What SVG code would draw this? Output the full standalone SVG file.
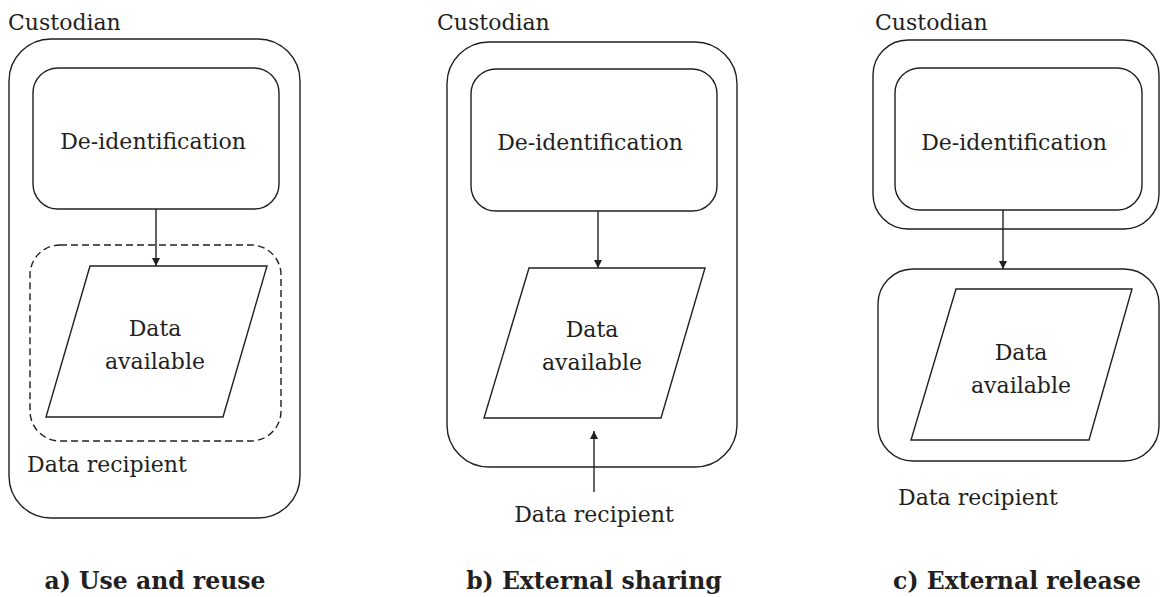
<svg xmlns="http://www.w3.org/2000/svg" width="1160" height="597" viewBox="0 0 1160 597">
<defs>
<marker id="ah" viewBox="0 0 10 10" refX="10" refY="5" markerWidth="10" markerHeight="8" markerUnits="userSpaceOnUse" orient="auto">
<path d="M0,0 L10,5 L0,10 Z" fill="#231f20"/>
</marker>
<style>
.box{fill:none;stroke:#231f20;stroke-width:1.4}
.dash{fill:none;stroke:#231f20;stroke-width:1.4;stroke-dasharray:7 4}
.t{font-family:"DejaVu Serif","Liberation Serif",serif;font-size:22px;fill:#231f20}
.c{text-anchor:middle}
.h{font-family:"DejaVu Serif","Liberation Serif",serif;font-size:23.5px;font-weight:bold;fill:#231f20;text-anchor:middle}
.con{fill:none;stroke:#231f20;stroke-width:1.4;marker-end:url(#ah)}
</style>
</defs>
<rect width="1160" height="597" fill="#ffffff"/>

<!-- Panel a -->
<g id="a-custodian">
<text class="t" x="8" y="30">Custodian</text>
<rect class="box" x="9" y="39" width="291" height="479" rx="42"/>
</g>
<g id="a-deid">
<rect class="box" x="33" y="68" width="246" height="141" rx="25"/>
<text class="t c" x="153" y="149">De-identification</text>
</g>
<g id="a-recipient">
<rect class="dash" x="30" y="245" width="251" height="196" rx="30"/>
<text class="t" x="27" y="472">Data recipient</text>
</g>
<g id="a-data">
<polygon class="box" points="90,266 267,266 223,417 46,417"/>
<text class="t c" x="155" y="336">Data</text>
<text class="t c" x="155" y="369">available</text>
</g>
<text class="h" x="155" y="589">a) Use and reuse</text>

<!-- Panel b -->
<g id="b-custodian">
<text class="t" x="437" y="30">Custodian</text>
<rect class="box" x="447" y="42" width="290" height="425" rx="42"/>
</g>
<g id="b-deid">
<rect class="box" x="471" y="69" width="246" height="142" rx="25"/>
<text class="t c" x="590" y="150">De-identification</text>
</g>
<g id="b-data">
<polygon class="box" points="529,268 705,268 661,418 484,418"/>
<text class="t c" x="592" y="337">Data</text>
<text class="t c" x="592" y="370">available</text>
</g>
<g id="b-recipient">
<text class="t c" x="594" y="522">Data recipient</text>
</g>
<text class="h" x="594" y="589">b) External sharing</text>

<!-- Panel c -->
<g id="c-custodian">
<text class="t" x="875" y="30">Custodian</text>
<rect class="box" x="873" y="40" width="286" height="189" rx="35"/>
</g>
<g id="c-deid">
<rect class="box" x="895" y="68" width="247" height="142" rx="25"/>
<text class="t c" x="1014" y="150">De-identification</text>
</g>
<g id="c-recipient">
<rect class="box" x="878" y="269" width="281" height="192" rx="35"/>
<text class="t" x="898" y="505">Data recipient</text>
</g>
<g id="c-data">
<polygon class="box" points="956,289 1132,289 1089,440 911,440"/>
<text class="t c" x="1021" y="360">Data</text>
<text class="t c" x="1021" y="393">available</text>
</g>
<text class="h" x="1017" y="589">c) External release</text>

<g id="connectors">
<line class="con" x1="156" y1="209" x2="156" y2="266"/>
<line class="con" x1="598" y1="211" x2="598" y2="268"/>
<line class="con" x1="1003" y1="210" x2="1003" y2="269"/>
<line class="con" x1="594" y1="492" x2="594" y2="431"/>
</g>
</svg>
